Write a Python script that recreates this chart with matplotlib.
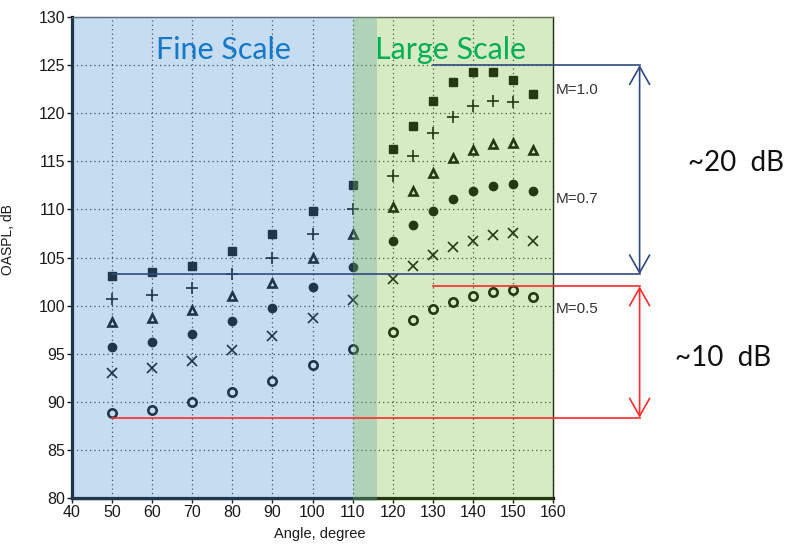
import matplotlib
matplotlib.use("Agg")
import matplotlib.pyplot as plt

plt.rcParams['font.family'] = ['Liberation Sans', 'DejaVu Sans']

# ---- data ----
angles = [50, 60, 70, 80, 90, 100, 110, 120, 125, 130, 135, 140, 145, 150, 155]
angles_plus = [50, 60, 70, 80, 90, 100, 110, 120, 125, 130, 135, 140, 145, 150]
m10_square = [103.1, 103.5, 104.15, 105.7, 107.4, 109.8, 112.5, 116.3, 118.7, 121.3, 123.2, 124.25, 124.25, 123.5, 122.0]
m10_plus = [100.65, 101.1, 101.85, 103.3, 105.0, 107.45, 110.0, 113.5, 115.6, 117.9, 119.6, 120.8, 121.3, 121.2]
m07_triangle = [98.3, 98.7, 99.5, 101.0, 102.4, 104.9, 107.4, 110.3, 111.9, 113.8, 115.3, 116.2, 116.8, 116.9, 116.2]
m07_circle = [95.7, 96.25, 97.0, 98.4, 99.8, 101.9, 104.0, 106.7, 108.35, 109.8, 111.05, 111.9, 112.4, 112.6, 111.9]
m05_x = [93.0, 93.55, 94.2, 95.4, 96.8, 98.7, 100.6, 102.8, 104.1, 105.3, 106.1, 106.75, 107.3, 107.5, 106.75]
m05_open = [88.8, 89.2, 90.0, 91.05, 92.2, 93.8, 95.5, 97.3, 98.5, 99.6, 100.4, 101.0, 101.4, 101.6, 100.9]

x_ticks = list(range(40, 161, 10))
y_ticks = list(range(80, 131, 5))

fine_range = (40, 116)
large_range = (110, 160)

blue_top, blue_bot = 125.0, 103.25
red_top, red_bot = 102.0, 88.35

fig = plt.figure(figsize=(7.93, 5.45), dpi=100)
ax = fig.add_axes([0.0908, 0.0862, 0.6066, 0.8826])
ax.set_xlim(40, 160)
ax.set_ylim(80, 130)
ax.set_xticks(x_ticks)
ax.set_yticks(y_ticks)
ax.tick_params(direction='out', length=3.6, width=1, colors='#1a1a1a',
               labelsize=11.5, pad=1.5)
ax.grid(True, linestyle=(0, (1, 2.5)), color='#303030', linewidth=0.9, zorder=1)
ax.set_axisbelow(True)

for s in ['left', 'bottom']:
    ax.spines[s].set_linewidth(2.3)
    ax.spines[s].set_color('black')
ax.spines['top'].set_linewidth(1.0)
ax.spines['top'].set_color('#555555')
ax.spines['right'].set_linewidth(1.0)
ax.spines['right'].set_color('black')

mk = dict(linestyle='none', color='black', zorder=3)
ax.plot(angles, m10_square, marker='s', markersize=5.8, **mk)
ax.plot(angles_plus, m10_plus, marker='+', markersize=8, markeredgewidth=1.2, **mk)
ax.plot(angles, m07_triangle, marker='^', markersize=5.8, markerfacecolor='white',
        markeredgewidth=1.9, **mk)
ax.plot(angles, m07_circle, marker='o', markersize=6, **mk)
ax.plot(angles, m05_x, marker='x', markersize=7, markeredgewidth=1.2, **mk)
ax.plot(angles, m05_open, marker='o', markersize=6.0, markerfacecolor='white',
        markeredgewidth=1.9, **mk)

# shaded overlays (on top, semi-transparent)
ax.axvspan(fine_range[0] - 0.3, fine_range[1], ymin=-0.006, ymax=1, color=(92/255, 155/255, 212/255),
           alpha=0.35, lw=0, zorder=5, clip_on=False)
ax.axvspan(large_range[0], large_range[1] + 0.15, ymin=-0.006, ymax=1, color=(122/255, 190/255, 60/255),
           alpha=0.30, lw=0, zorder=5, clip_on=False)

ax.text(77.7, 126.6, 'Fine Scale', fontsize=22, color='#1478C8', family='Lato',
        ha='center', va='center', zorder=6)
ax.text(134.5, 126.6, 'Large Scale', fontsize=22, color='#00B050', family='Lato',
        ha='center', va='center', zorder=6)

# annotation lines
xr = 181.6
blue = '#2F4A80'
red = '#FF2A2A'
ax.plot([130, xr], [blue_top, blue_top], color=blue, lw=1.2, clip_on=False, zorder=7)
ax.plot([50, xr], [blue_bot, blue_bot], color=blue, lw=1.2, clip_on=False, zorder=7)
ax.plot([130, xr], [red_top, red_top], color=red, lw=1.2, clip_on=False, zorder=7)
ax.plot([50, xr], [red_bot, red_bot], color=red, lw=1.2, clip_on=False, zorder=7)

for (y0, y1, c) in [(blue_top, blue_bot, blue), (red_top, red_bot, red)]:
    ax.annotate('', xy=(xr, y0), xytext=(xr, y1), annotation_clip=False,
                arrowprops=dict(arrowstyle='<->,head_length=12.7,head_width=7.2',
                                mutation_scale=1, color=c, lw=1.2,
                                shrinkA=0, shrinkB=0), zorder=7)

for (yy, lab) in [(122.45, 'M=1.0'), (111.1, 'M=0.7'), (99.7, 'M=0.5')]:
    ax.text(160.75, yy, lab, fontsize=11, color='#333333', ha='left', va='center',
            clip_on=False, zorder=7)

ax.text(205.6, 114.8, '~20  dB', fontsize=20, family='Lato', color='#111111',
        ha='center', va='center', clip_on=False)
ax.text(202.3, 94.55, '~10  dB', fontsize=20, family='Lato', color='#111111',
        ha='center', va='center', clip_on=False)

ax.set_xlabel('Angle, degree', fontsize=10.5, color='#1a1a1a')
ax.xaxis.set_label_coords(0.515, -0.061)
ax.set_ylabel('OASPL, dB', fontsize=10, color='#1a1a1a')
ax.yaxis.set_label_coords(-0.118, 0.538)

fig.savefig('out.png', dpi=100)
